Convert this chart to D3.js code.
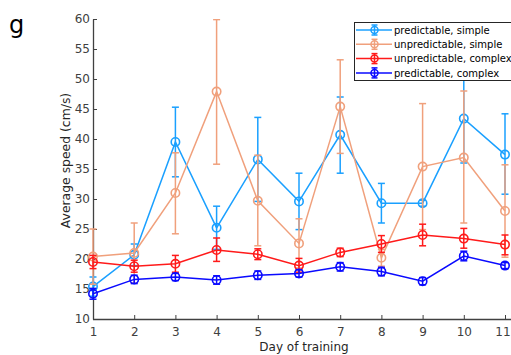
<!DOCTYPE html>
<html><head><meta charset="utf-8">
<script src="https://cdn.jsdelivr.net/npm/d3@7"></script>
<style>body{margin:0;background:#fff;}svg{display:block;font-family:"DejaVu Sans",sans-serif;}</style>
</head><body><svg id="c" width="511" height="355"></svg>
<script>
const days = [1,2,3,4,5,6,7,8,9,10,11];
const yTicks = [10,15,20,25,30,35,40,45,50,55,60];
const seriesNames = ["predictable, simple","unpredictable, simple","unpredictable, complex","predictable, complex"];
const seriesColors = ["#1aa0ff","#f0a07c","#ff1a1a","#0a0aff"];
// means
const predSimple   = [15.4,20.7,39.5,25.2,36.6,29.6,40.7,29.3,29.3,43.4,37.4];
const unpredSimple = [20.4,21.0,31.0,47.9,29.7,22.6,45.4,20.2,35.4,36.9,28.0];
const unpredComplex= [19.5,18.8,19.2,21.5,20.8,18.9,21.1,22.5,24.0,23.4,22.4];
const predComplex  = [14.2,16.6,17.0,16.5,17.3,17.6,18.7,17.9,16.3,20.5,18.9];
// error bar upper / lower ends
const predSimpleHi   = [17.0,22.5,45.3,28.8,43.6,34.3,47.0,32.6,29.8,50.5,44.2];
const predSimpleLo   = [13.8,18.9,33.7,21.6,29.6,24.9,34.3,26.0,28.8,36.0,30.8];
const unpredSimpleHi = [25.0,26.0,37.7,59.9,37.3,26.7,53.2,21.6,45.9,48.0,35.7];
const unpredSimpleLo = [15.8,16.0,24.2,35.8,22.2,18.5,37.6,18.8,24.9,26.0,20.3];
const unpredComplexHi= [20.6,19.8,20.6,23.5,21.7,20.1,21.8,23.9,25.8,25.1,24.0];
const unpredComplexLo= [18.4,17.8,17.8,19.6,19.9,17.8,20.4,21.1,22.2,21.8,20.7];
const predComplexHi  = [15.1,17.3,17.6,17.2,18.0,18.2,19.4,18.6,16.9,21.3,19.4];
const predComplexLo  = [13.3,15.9,16.4,15.8,16.6,17.0,18.0,17.2,15.7,19.7,18.4];

const series = [
  {name:seriesNames[0],color:seriesColors[0],m:predSimple,hi:predSimpleHi,lo:predSimpleLo},
  {name:seriesNames[1],color:seriesColors[1],m:unpredSimple,hi:unpredSimpleHi,lo:unpredSimpleLo},
  {name:seriesNames[2],color:seriesColors[2],m:unpredComplex,hi:unpredComplexHi,lo:unpredComplexLo},
  {name:seriesNames[3],color:seriesColors[3],m:predComplex,hi:predComplexHi,lo:predComplexLo}
];

const svg = d3.select("#c");
const L=93, R=505, T=19, B=319;
const x = d3.scaleLinear().domain([1,11]).range([L,R]);
const y = d3.scaleLinear().domain([10,60]).range([B,T]);
const axisColor="#404040";

svg.append("defs").append("clipPath").attr("id","clip")
  .append("rect").attr("x",L-6).attr("y",T).attr("width",511-L+6).attr("height",B-T);

// axes
const gx = svg.append("g").attr("transform",`translate(0,${B})`)
  .call(d3.axisBottom(x).tickValues(days).tickFormat(d3.format("d")).tickSizeInner(-4).tickSizeOuter(0).tickPadding(8));
const gy = svg.append("g").attr("transform",`translate(${L},0)`)
  .call(d3.axisLeft(y).tickValues(yTicks).tickSizeInner(-4).tickSizeOuter(0).tickPadding(3));
[gx,gy].forEach(g=>{
  g.select(".domain").attr("stroke",axisColor).attr("stroke-width",1.3);
  g.selectAll(".tick line").attr("stroke",axisColor).attr("stroke-width",1);
  g.selectAll(".tick text").attr("fill",axisColor).attr("font-size",12).attr("font-family","DejaVu Sans");
});
gx.select(".domain").attr("d",`M${L},0.5H511`);
gx.selectAll(".tick text").filter(d=>d===11).attr("dx",-2.5);

svg.append("text").attr("x",304).attr("y",351).attr("text-anchor","middle")
  .attr("font-size",12).attr("fill","#262626").text("Day of training");
svg.append("text").attr("transform",`translate(70,160.5) rotate(-90)`).attr("text-anchor","middle")
  .attr("font-size",12.4).attr("fill","#262626").text("Average speed (cm/s)");
svg.append("text").attr("x",9).attr("y",33).attr("font-size",24).attr("fill","#000").text("g");

const plot = svg.append("g").attr("clip-path","url(#clip)");
const line = d3.line().x((d,i)=>x(days[i])).y(d=>y(d));
series.forEach(s=>{
  const g = plot.append("g");
  g.append("path").attr("d",line(s.m)).attr("fill","none").attr("stroke",s.color).attr("stroke-width",1.5);
  days.forEach((d,i)=>{
    const cx=x(d);
    g.append("line").attr("x1",cx).attr("x2",cx).attr("y1",y(s.hi[i])).attr("y2",y(s.lo[i])).attr("stroke",s.color).attr("stroke-width",1.5);
    [s.hi[i],s.lo[i]].forEach(v=>{
      g.append("line").attr("x1",cx-3.5).attr("x2",cx+3.5).attr("y1",y(v)).attr("y2",y(v)).attr("stroke",s.color).attr("stroke-width",1.5);
    });
    g.append("circle").attr("cx",cx).attr("cy",y(s.m[i])).attr("r",4.2).attr("fill","none").attr("stroke",s.color).attr("stroke-width",1.6);
  });
});

// legend
const lg = svg.append("g");
lg.append("rect").attr("x",354.5).attr("y",22.5).attr("width",160).attr("height",58).attr("fill","#fff").attr("stroke","#262626").attr("stroke-width",1);
series.forEach((s,i)=>{
  const ly = 30 + i*14.3;
  lg.append("line").attr("x1",356).attr("x2",392).attr("y1",ly).attr("y2",ly).attr("stroke",s.color).attr("stroke-width",1.5);
  lg.append("line").attr("x1",374.5).attr("x2",374.5).attr("y1",ly-5).attr("y2",ly+5).attr("stroke",s.color).attr("stroke-width",1.5);
  [ly-5,ly+5].forEach(v=>lg.append("line").attr("x1",371.5).attr("x2",377.5).attr("y1",v).attr("y2",v).attr("stroke",s.color).attr("stroke-width",1.5));
  lg.append("circle").attr("cx",374.5).attr("cy",ly).attr("r",3.5).attr("fill","none").attr("stroke",s.color).attr("stroke-width",1.5);
  lg.append("text").attr("x",394).attr("y",ly+3.8).attr("font-size",10).attr("fill","#000").text(s.name);
});
</script></body></html>
